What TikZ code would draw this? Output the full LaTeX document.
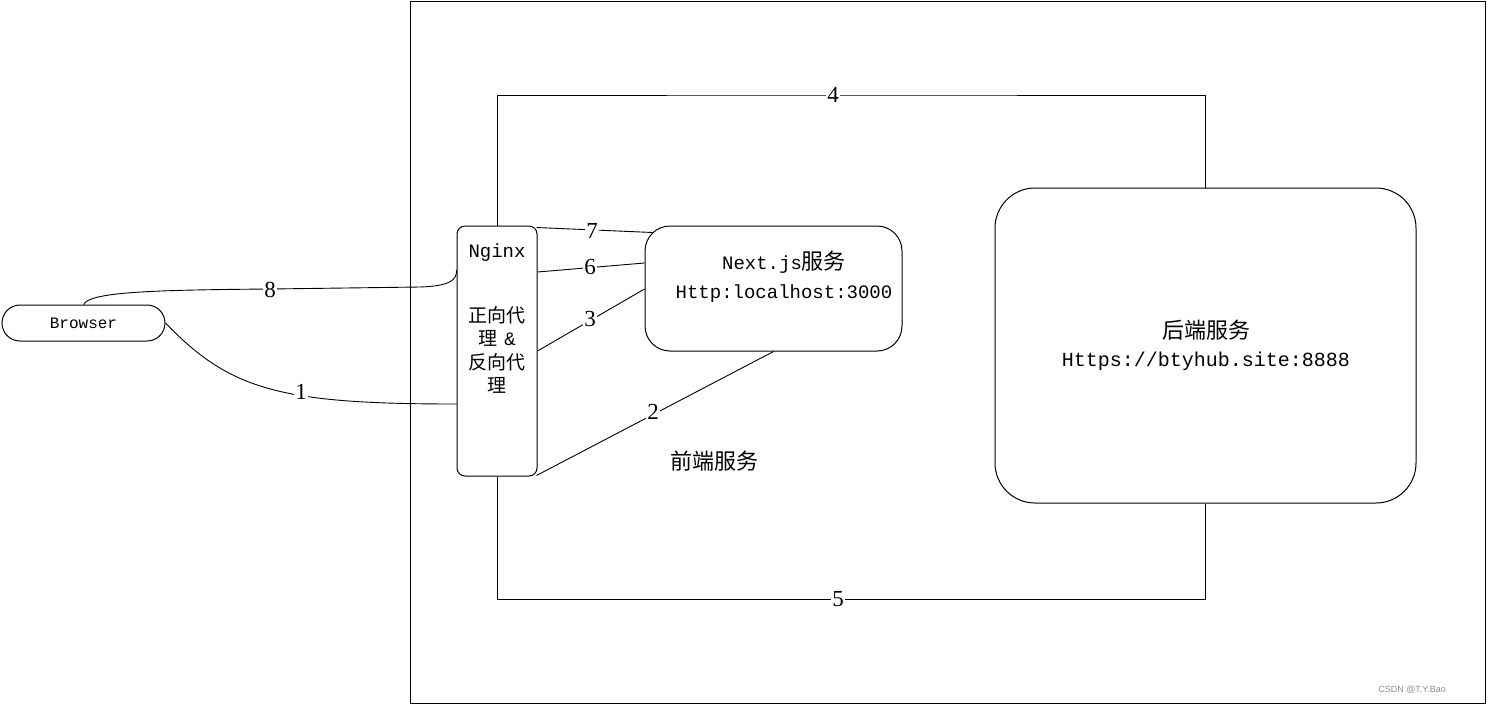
\documentclass[tikz,border=0pt]{standalone}
\usepackage{fontspec}
\setmainfont{Liberation Mono}
\newfontfamily\cn{Noto Sans CJK SC}
\newfontfamily\numf{Liberation Serif}
\newfontfamily\wmf{Liberation Sans}
\begin{document}
\begin{tikzpicture}[x=1pt,y=-1pt,
  line width=1pt,
  box/.style={draw, inner sep=0pt},
  txt/.style={inner sep=0pt, align=center},
  lbl/.style={fill=white, inner sep=1pt, font=\numf\fontsize{23}{23}\selectfont},
  link/.style={draw, line width=0.9pt}]
\useasboundingbox (0,0) rectangle (1488,705);
\node[box, minimum width=1075, minimum height=702] (frame) at (947.5,352) {};
% boxes
\node[box, rounded corners=18, minimum width=163, minimum height=36] (brw) at (83.5,323) {};
\node[txt, font=\fontsize{16}{16}\selectfont] (brwt) at (83.5,323) {Browser};
\node[box, rounded corners=8, minimum width=80, minimum height=250] (ngx) at (497,351) {};
\node[txt, font=\fontsize{19}{19}\selectfont] (ngxt) at (497,253) {Nginx};
\node[txt, font=\cn\fontsize{19}{23.5}\selectfont] (ngxc) at (497,350) {正向代\\理\hspace{7pt}{\rmfamily\&}\\反向代\\理};
\node[box, rounded corners=25, minimum width=257, minimum height=125] (nxt) at (773.5,288.5) {};
\node[txt, font=\fontsize{19}{29}\selectfont] (nxtt) at (784,277) {Next.js{\cn\fontsize{22}{22}\selectfont 服务}\\Http:localhost:3000};
\node[box, rounded corners=40, minimum width=421, minimum height=315] (be) at (1205.5,345.5) {};
\node[txt, font=\fontsize{20}{28}\selectfont] (bet) at (1206,345) {{\cn\fontsize{22}{22}\selectfont 后端服务}\\Https://btyhub.site:8888};
\node[txt, font=\cn\fontsize{22}{22}\selectfont] (fe) at (714,461) {前端服务};
\node[txt, font=\wmf\fontsize{9}{9}\selectfont, text=black!45] (wm) at (1412,690) {CSDN @T.Y.Bao};
% connectors
\coordinate (c4) at (833,95);
\coordinate (c5) at (838,599);
\draw[link] (ngx.north) |- (c4) -| (be.north);
\draw[link] (ngx.south) |- (c5) -| (be.south);
\draw[link] ([shift={(-1,2)}]ngx.north east) -- ([shift={(8,7)}]nxt.north west);
\draw[link] (ngx.east |- 0,272) -- (nxt.west |- 0,263);
\draw[link] (ngx.east) -- (nxt.west |- 0,289);
\draw[link] ([shift={(-1,-1)}]ngx.south east) -- (nxt.south);
\draw[link] (brw.north) .. controls (90,292) and (150,290) .. (270,289) -- (420,287) .. controls (450,286) and (457,280) .. (ngx.west |- 0,270);
\draw[link] (brw.east) .. controls (230,390) and (280,404) .. (ngx.west |- 0,404);
% labels
\node[lbl] (l4) at (c4) {4};
\node[lbl] (l5) at (c5) {5};
\node[lbl] (l7) at (592,231) {7};
\node[lbl] (l6) at (590,267) {6};
\node[lbl] (l3) at (590,319) {3};
\node[lbl] (l2) at (653,412) {2};
\node[lbl] (l8) at (270,290) {8};
\node[lbl] (l1) at (301,392) {1};
\end{tikzpicture}
\end{document}
